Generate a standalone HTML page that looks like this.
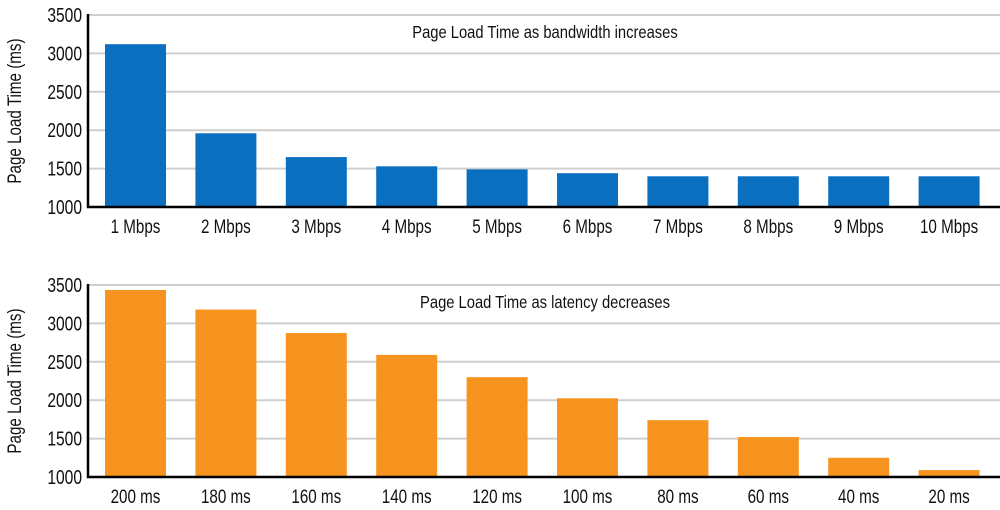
<!DOCTYPE html>
<html><head><meta charset="utf-8"><style>
html,body{margin:0;padding:0;background:#fff;width:1000px;height:510px;overflow:hidden}
svg text{font-family:"Liberation Sans Narrow","Liberation Sans",sans-serif;fill:#111}
</style></head><body>
<svg id="c" width="1000" height="510"></svg>
<script>
const topCats=["1 Mbps","2 Mbps","3 Mbps","4 Mbps","5 Mbps","6 Mbps","7 Mbps","8 Mbps","9 Mbps","10 Mbps"];
const topVals=[3120,1960,1650,1530,1490,1440,1400,1400,1400,1400];
const botCats=["200 ms","180 ms","160 ms","140 ms","120 ms","100 ms","80 ms","60 ms","40 ms","20 ms"];
const botVals=[3435,3180,2875,2590,2300,2025,1740,1520,1250,1090];
const yTicks=[1000,1500,2000,2500,3000,3500];
const NS="http://www.w3.org/2000/svg";
const svg=document.getElementById('c');
function mk(t,a,p){const e=document.createElementNS(NS,t);for(const k in a)e.setAttribute(k,a[k]);(p||svg).appendChild(e);return e;}
function panel(off,cats,vals,color,title,key){
  const g=mk('g',{});
  
  
  const y=v=>off+207-(v-1000)/500*38.4;
  const x=i=>105+i*90.4;
  yTicks.forEach(t=>{
    if(t>1000){const l=mk('line',{x1:88,x2:1000,y1:y(t),y2:y(t),stroke:'#cfcfcf','stroke-width':2},g);
    }
    const tx=mk('text',{x:82,y:y(t)+7,'text-anchor':'end','font-size':20,transform:`translate(82 0) scale(0.78 1) translate(-82 0)`},g);
    tx.textContent=t;
    
  });
  vals.forEach((v,i)=>{
    const r=mk('rect',{x:x(i),y:y(v),width:61,height:y(1000)-y(v),fill:color},g);
    
    
    const cx=x(i)+30.5;
    const t=mk('text',{x:cx,y:off+233,'text-anchor':'middle','font-size':19,transform:`translate(${cx} 0) scale(0.8 1) translate(${-cx} 0)`},g);
    t.textContent=cats[i];
    
  });
  const ax=mk('path',{d:`M88 ${off+14}V${off+207}H1000`,stroke:'#000','stroke-width':2.5,fill:'none'},g);
  
  const tt=mk('text',{x:545,y:off+38,'text-anchor':'middle','font-size':18,transform:`translate(545 0) scale(0.82 1) translate(-545 0)`},g);
  tt.textContent=title;
  
  const yl=mk('text',{x:0,y:0,'text-anchor':'middle','font-size':19,transform:`translate(21 ${off+111}) rotate(-90) scale(0.8 1)`},g);
  yl.textContent='Page Load Time (ms)';
  
}
panel(0,topCats,topVals,'#0b6fc0','Page Load Time as bandwidth increases','bandwidth');
panel(270,botCats,botVals,'#f7941f','Page Load Time as latency decreases','latency');
</script>
</body></html>
